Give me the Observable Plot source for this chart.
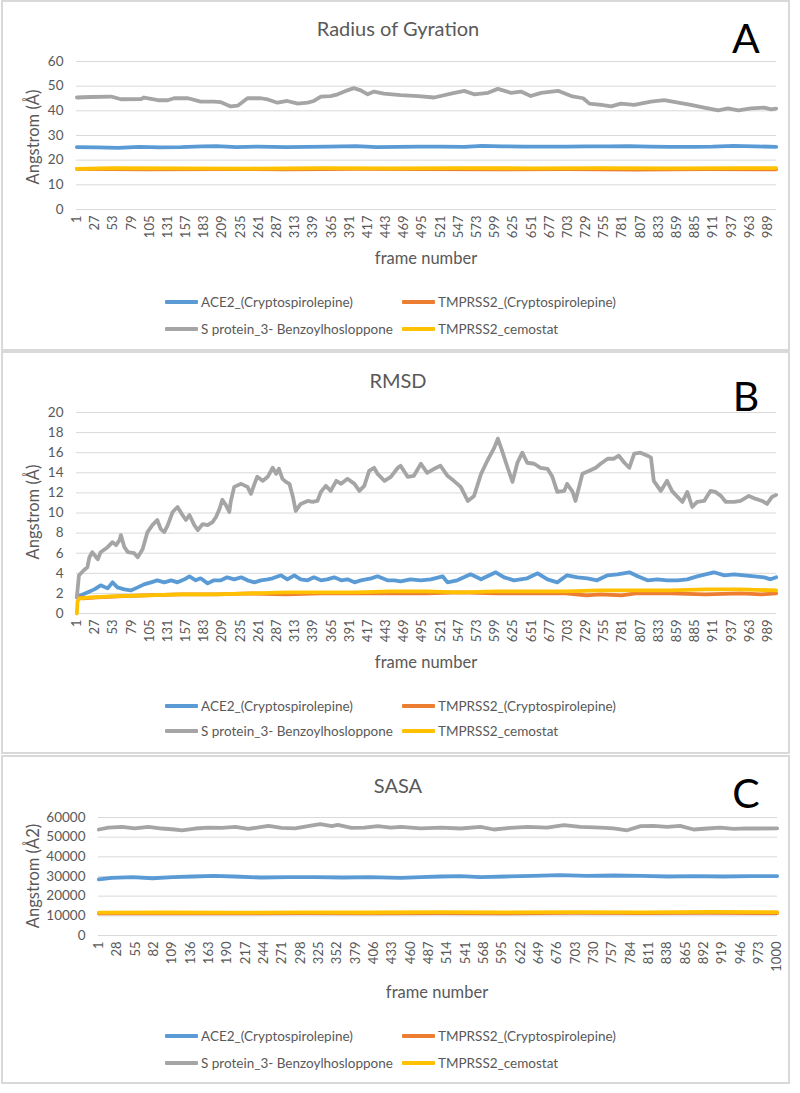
<!DOCTYPE html>
<html>
<head>
<meta charset="utf-8">
<script src="https://cdn.jsdelivr.net/npm/d3@7"></script>
<script src="https://cdn.jsdelivr.net/npm/@observablehq/plot@0.6"></script>
<style>
  body { margin: 0; background: #fff; font-family: Lato, "Open Sans", sans-serif; color: #595959; }
  #root { position: relative; width: 800px; height: 1093px; overflow: hidden; background: #fff; }
  .panel { position: absolute; left: 1px; width: 789px; border: 2px solid #d9d9d9; box-sizing: border-box; }
  .c { position: absolute; white-space: nowrap; transform: translate(-50%, -50%); }
  .title { font-size: 20px; color: #595959; }
  .letter { font-size: 41px; color: #000; }
  .xlab { font-size: 16.5px; color: #595959; }
  .ylab { position: absolute; white-space: nowrap; transform: translate(-50%, -50%) rotate(-90deg); font-size: 16.5px; color: #595959; }
  .sw { position: absolute; width: 33px; height: 3.5px; border-radius: 1px; }
  .lt { position: absolute; white-space: nowrap; font-size: 13.5px; color: #595959; transform: translateY(-50%); }
  .plot { position: absolute; left: 0; }
</style>
</head>
<body>
<div id="root"></div>
<script>
// ---------- series metadata ----------
const seriesNames = ["ACE2_(Cryptospirolepine)", "TMPRSS2_(Cryptospirolepine)", "S protein_3- Benzoylhosloppone", "TMPRSS2_cemostat"];
const seriesColors = ["#5b9bd5", "#ed7d31", "#a5a5a5", "#ffc000"];

// ---------- x tick labels ----------
const ticksAB = [1,27,53,79,105,131,157,183,209,235,261,287,313,339,365,391,417,443,469,495,521,547,573,599,625,651,677,703,729,755,781,807,833,859,885,911,937,963,989];
const ticksC = [1,28,55,82,109,136,163,190,217,244,271,298,325,352,379,406,433,460,487,514,541,568,595,622,649,676,703,730,757,784,811,838,865,892,919,946,973,1000];

// ---------- A: Radius of Gyration  [frame, Å] ----------
const rgACE2 = [[1,25.3],[30,25.2],[60,25.0],[90,25.4],[120,25.2],[150,25.3],[180,25.6],[200,25.7],[230,25.3],[260,25.5],[300,25.3],[330,25.4],[360,25.5],[400,25.7],[430,25.3],[460,25.4],[490,25.5],[520,25.5],[555,25.4],[580,25.8],[610,25.6],[640,25.5],[670,25.5],[700,25.5],[730,25.6],[760,25.6],[790,25.7],[820,25.5],[850,25.4],[880,25.4],[910,25.5],[940,25.8],[970,25.6],[1001,25.4]];
const rgTMP = [[1,16.5],[100,16.3],[200,16.4],[300,16.3],[400,16.5],[500,16.4],[600,16.3],[700,16.4],[800,16.2],[900,16.4],[1001,16.3]];
const rgS = [[1,45.4],[20,45.6],[50,45.8],[64,44.7],[93,44.8],[97,45.4],[117,44.3],[131,44.3],[140,45.1],[160,45.1],[178,43.7],[197,43.7],[207,43.5],[221,41.8],[231,42.1],[245,45.1],[264,45.1],[274,44.6],[288,43.3],[302,44.0],[317,42.9],[331,43.3],[340,44.0],[350,45.8],[364,46.0],[374,46.7],[388,48.3],[397,49.2],[407,48.3],[417,46.7],[426,47.8],[440,47.0],[464,46.4],[489,46.0],[512,45.4],[536,47.0],[555,48.1],[569,46.7],[589,47.3],[603,48.9],[622,47.3],[636,47.8],[650,46.0],[665,47.3],[689,48.1],[708,46.0],[725,45.1],[734,42.9],[751,42.4],[765,41.8],[779,42.9],[798,42.4],[822,43.7],[841,44.3],[861,43.3],[879,42.4],[898,41.3],[918,40.2],[932,41.0],[947,40.2],[965,41.0],[984,41.3],[994,40.6],[1001,40.9]];
const rgCem = [[1,16.5],[50,16.8],[150,16.7],[250,16.6],[350,16.8],[450,16.7],[550,16.8],[650,16.7],[750,16.8],[850,16.7],[950,16.8],[1001,16.8]];

// ---------- B: RMSD  [frame, Å] ----------
const rmsdACE2 = [[1,1.6],[6,1.8],[16,2.1],[26,2.4],[35,2.8],[45,2.5],[52,3.1],[59,2.6],[69,2.4],[78,2.3],[88,2.6],[97,2.9],[107,3.1],[116,3.3],[126,3.1],[136,3.3],[145,3.1],[155,3.4],[162,3.7],[171,3.3],[178,3.5],[188,3.0],[197,3.3],[207,3.3],[216,3.6],[226,3.4],[236,3.6],[245,3.3],[255,3.1],[264,3.3],[274,3.4],[281,3.5],[293,3.8],[302,3.4],[312,3.8],[321,3.4],[331,3.3],[340,3.6],[350,3.3],[359,3.4],[369,3.6],[379,3.3],[388,3.4],[398,3.1],[407,3.3],[422,3.5],[431,3.7],[445,3.3],[455,3.3],[464,3.2],[478,3.4],[493,3.3],[507,3.4],[524,3.7],[531,3.1],[545,3.3],[564,3.9],[579,3.4],[600,4.1],[612,3.6],[626,3.3],[645,3.5],[660,4.0],[674,3.4],[688,3.1],[702,3.8],[717,3.6],[731,3.5],[745,3.3],[760,3.8],[774,3.9],[791,4.1],[803,3.7],[817,3.3],[831,3.4],[845,3.3],[860,3.3],[874,3.4],[888,3.7],[912,4.1],[927,3.8],[941,3.9],[955,3.8],[970,3.7],[984,3.6],[993,3.4],[1001,3.6]];
const rmsdTMP = [[1,1.7],[10,1.5],[30,1.6],[60,1.7],[100,1.8],[150,1.9],[200,1.9],[250,2.0],[300,1.9],[350,2.0],[400,2.0],[450,2.0],[500,2.0],[550,2.1],[600,2.0],[650,2.0],[700,2.0],[730,1.8],[750,1.9],[780,1.8],[800,2.0],[850,2.0],[900,1.9],[950,2.0],[980,1.9],[1001,2.0]];
const rmsdS = [[1,1.6],[4,3.8],[11,4.3],[16,4.6],[19,5.6],[23,6.1],[31,5.4],[35,6.1],[45,6.6],[52,7.1],[57,6.8],[62,7.3],[64,7.8],[69,6.6],[74,6.1],[83,6.0],[88,5.6],[95,6.4],[102,8.1],[109,8.8],[116,9.3],[121,8.4],[126,8.1],[131,8.8],[138,10.1],[145,10.6],[152,9.8],[157,9.3],[162,9.8],[169,8.8],[174,8.3],[181,8.9],[188,8.8],[195,9.1],[200,9.6],[205,10.4],[209,11.3],[214,10.8],[219,10.1],[221,11.1],[226,12.6],[236,12.9],[245,12.6],[250,11.9],[255,12.9],[259,13.6],[267,13.2],[274,13.6],[281,14.5],[286,13.9],[290,14.4],[295,13.4],[300,13.1],[305,12.9],[310,11.6],[314,10.2],[321,10.9],[331,11.2],[338,11.1],[345,11.2],[350,12.1],[357,12.7],[364,12.2],[372,13.2],[379,12.9],[388,13.4],[398,12.9],[405,12.2],[412,12.7],[419,14.2],[426,14.5],[431,13.9],[441,13.2],[450,13.6],[460,14.5],[464,14.7],[474,13.6],[483,13.7],[493,14.9],[502,14.0],[512,14.4],[521,14.7],[531,13.7],[540,13.2],[550,12.6],[560,11.2],[569,11.7],[579,13.9],[588,15.2],[598,16.5],[603,17.4],[609,16.2],[617,14.5],[624,13.1],[631,15.0],[638,16.0],[645,15.0],[655,14.9],[664,14.5],[674,14.4],[681,13.6],[688,12.1],[698,12.2],[702,12.9],[710,12.1],[714,11.2],[724,13.9],[734,14.2],[743,14.5],[750,14.9],[760,15.4],[769,15.4],[776,15.7],[784,15.0],[791,14.5],[798,15.9],[807,16.0],[817,15.7],[822,15.5],[826,13.2],[836,12.2],[845,13.2],[852,12.2],[860,11.6],[867,11.1],[874,12.1],[881,10.6],[888,11.1],[898,11.2],[907,12.2],[914,12.1],[922,11.7],[929,11.1],[941,11.1],[950,11.2],[962,11.7],[972,11.4],[981,11.2],[988,10.9],[995,11.6],[1001,11.8]];
const rmsdCem = [[1,0.0],[2,1.2],[5,1.5],[20,1.6],[50,1.7],[100,1.8],[150,1.9],[200,1.9],[250,2.0],[300,2.1],[350,2.1],[400,2.1],[450,2.2],[500,2.2],[550,2.1],[600,2.2],[650,2.2],[700,2.2],[750,2.3],[800,2.3],[850,2.3],[900,2.4],[950,2.4],[1001,2.3]];

// ---------- C: SASA  [frame, Å2] ----------
const sasaACE2 = [[1,28500],[20,29300],[50,29700],[80,29100],[110,29700],[140,30000],[170,30300],[200,30000],[240,29500],[280,29700],[320,29700],[360,29500],[400,29700],[446,29300],[475,29700],[505,30000],[534,30200],[563,29700],[600,30000],[640,30300],[680,30700],[720,30300],[760,30500],[800,30300],[840,30000],[880,30200],[920,30000],[960,30200],[1000,30200]];
const sasaTMP = [[1,11200],[100,11300],[200,11200],[300,11400],[400,11300],[500,11400],[600,11300],[700,11500],[800,11400],[900,11500],[1000,11400]];
const sasaS = [[1,53900],[15,54900],[35,55200],[54,54500],[74,55200],[94,54400],[113,53900],[123,53500],[143,54400],[162,54900],[182,54700],[202,55200],[221,54200],[241,55200],[251,55700],[270,54700],[290,54500],[309,55600],[327,56600],[344,55600],[353,56300],[373,54700],[392,54900],[412,55600],[431,54900],[446,55200],[475,54500],[505,54900],[534,54400],[563,55200],[583,53900],[607,54700],[632,55200],[661,54900],[686,56100],[710,55200],[740,54900],[759,54500],[779,53500],[799,55600],[818,55700],[838,55200],[857,55700],[877,53900],[897,54400],[916,54900],[936,54200],[955,54500],[975,54400],[1000,54500]];
const sasaCem = [[1,11600],[100,11700],[200,11600],[300,11800],[400,11700],[500,11900],[600,11800],[700,11900],[800,11800],[900,12000],[1000,11900]];

// ---------- y ticks ----------
const yTicksA = [0,10,20,30,40,50,60];
const yTicksB = [0,2,4,6,8,10,12,14,16,18,20];
const yTicksC = [0,10000,20000,30000,40000,50000,60000];

// ---------- layout helpers ----------
const root = document.getElementById("root");
function el(cls, html, style) {
  const d = document.createElement("div");
  d.className = cls;
  if (html != null) d.textContent = html;
  Object.assign(d.style, style || {});
  root.appendChild(d);
  return d;
}

function makePlot({series, yDomain, yTicks, xDomain, xTicks, marginLeft, marginRight, plotHeight, marginBottom}) {
  const marks = [
    Plot.gridY(yTicks, {stroke: "#d9d9d9", strokeOpacity: 1, strokeWidth: 1}),
    Plot.axisY(yTicks, {tickSize: 0, tickPadding: 13, label: null, tickFormat: d => String(d), fill: "#595959", fontSize: 13.5}),
    Plot.axisX(xTicks, {tickSize: 0, tickPadding: 6, tickRotate: -90, label: null, tickFormat: d => String(d), fill: "#595959", fontSize: 13})
  ];
  series.forEach((arr, i) => {
    marks.push(Plot.line(arr, {x: d => d[0], y: d => d[1], stroke: seriesColors[i], strokeWidth: 3.8, strokeLinejoin: "round", strokeLinecap: "round"}));
  });
  return Plot.plot({
    width: 800,
    height: 10 + plotHeight + marginBottom,
    marginTop: 10, marginBottom, marginLeft, marginRight,
    style: {fontFamily: "Lato, sans-serif", color: "#595959", background: "transparent", overflow: "visible"},
    x: {domain: xDomain},
    y: {domain: yDomain},
    marks
  });
}

function legend(rowY1, rowY2) {
  const pos = [[165, rowY1], [402, rowY1], [165, rowY2], [402, rowY2]];
  seriesNames.forEach((name, i) => {
    const [x, y] = pos[i];
    el("sw", null, {left: x + "px", top: (y - 1.75) + "px", background: seriesColors[i]});
    el("lt", name, {left: (x + 36) + "px", top: y + "px"});
  });
}

function panel(cfg) {
  el("panel", null, {top: cfg.boxTop + "px", height: cfg.boxH + "px"});
  const svg = makePlot(cfg);
  const w = document.createElement("div");
  w.className = "plot";
  w.style.top = (cfg.plotTop - 10) + "px";
  w.appendChild(svg);
  root.appendChild(w);
  el("c title", cfg.title, {left: "398px", top: cfg.titleY + "px"});
  el("c letter", cfg.letter, {left: "746px", top: cfg.letterY + "px"});
  el("c xlab", "frame number", {left: cfg.xlabX + "px", top: cfg.xlabY + "px"});
  el("ylab", cfg.ylab, {left: "33px", top: cfg.ylabY + "px"});
  legend(cfg.leg1, cfg.leg2);
}

panel({
  boxTop: 0, boxH: 351, title: "Radius of Gyration", titleY: 28, letter: "A", letterY: 37,
  series: [rgACE2, rgTMP, rgS, rgCem], yDomain: [0, 60], yTicks: yTicksA,
  xDomain: [0.5, 1001.5], xTicks: ticksAB, marginLeft: 76, marginRight: 24,
  plotTop: 61, plotHeight: 148, marginBottom: 40,
  xlabX: 426, xlabY: 258, ylab: "Angstrom (Å)", ylabY: 137, leg1: 302, leg2: 329
});

panel({
  boxTop: 351, boxH: 403, title: "RMSD", titleY: 380, letter: "B", letterY: 395,
  series: [rmsdACE2, rmsdTMP, rmsdS, rmsdCem], yDomain: [0, 20], yTicks: yTicksB,
  xDomain: [0.5, 1001.5], xTicks: ticksAB, marginLeft: 76, marginRight: 24,
  plotTop: 412, plotHeight: 201, marginBottom: 40,
  xlabX: 426, xlabY: 662, ylab: "Angstrom (Å)", ylabY: 512, leg1: 706, leg2: 731
});

panel({
  boxTop: 755, boxH: 329, title: "SASA", titleY: 785, letter: "C", letterY: 792,
  series: [sasaACE2, sasaTMP, sasaS, sasaCem], yDomain: [0, 60000], yTicks: yTicksC,
  xDomain: [0.5, 1000.5], xTicks: ticksC, marginLeft: 98, marginRight: 23,
  plotTop: 817, plotHeight: 118, marginBottom: 44,
  xlabX: 437, xlabY: 992, ylab: "Angstrom (Å2)", ylabY: 876, leg1: 1036, leg2: 1063
});
</script>
</body>
</html>
